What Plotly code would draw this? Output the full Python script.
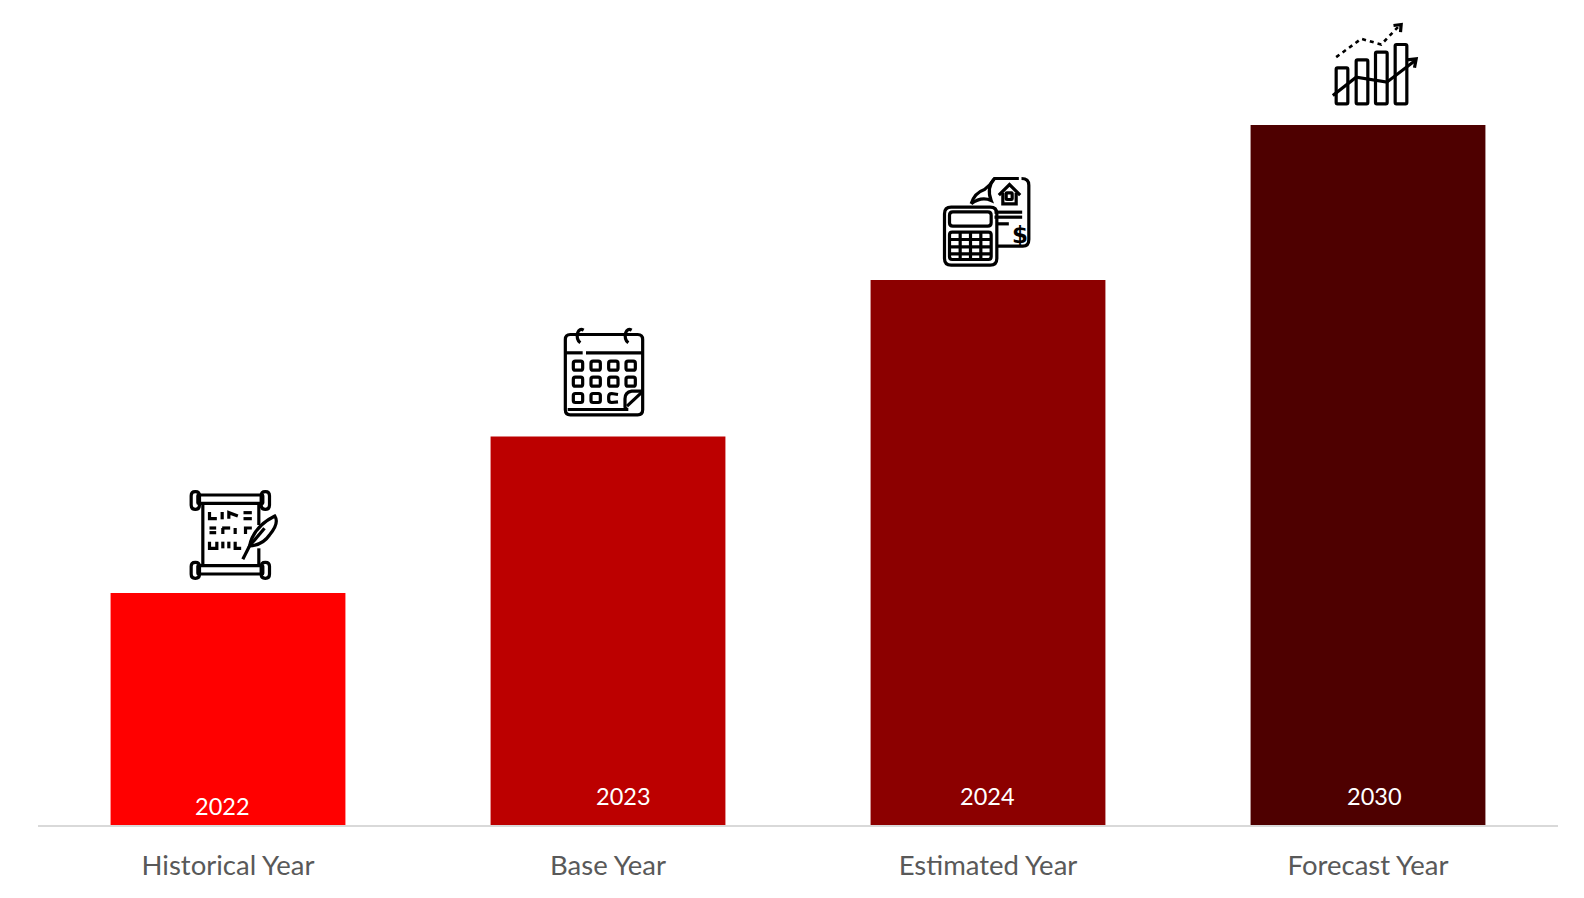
import plotly.graph_objects as go

categories = ["Historical Year", "Base Year", "Estimated Year", "Forecast Year"]
years = ["2022", "2023", "2024", "2030"]
values = [23.2, 38.85, 54.5, 70.0]
colors = ["#FF0000", "#BC0000", "#8C0000", "#4E0000"]

# small nudges of the year labels, they are not centred in the original
year_dx = [-6, 15, -1, 6]
year_y = [1.9, 2.9, 2.9, 2.9]


def rrect(x0, y0, x1, y1, r=6):
    return (f"M{x0+r},{y0} L{x1-r},{y0} Q{x1},{y0} {x1},{y0+r} L{x1},{y1-r} Q{x1},{y1} {x1-r},{y1} "
            f"L{x0+r},{y1} Q{x0},{y1} {x0},{y1-r} L{x0},{y0+r} Q{x0},{y0} {x0+r},{y0} Z")


def poly(*pts):
    return "M" + " L".join(f"{x},{y}" for x, y in pts)


# Icons are sketched in their own little grid (3 units = 1 px), y going down
scroll = [
    rrect(85, 75, 280, 100, 2), rrect(65, 65, 90, 118, 12), rrect(275, 65, 300, 118, 12),
    rrect(85, 287, 280, 312, 2), rrect(65, 277, 90, 325, 12), rrect(275, 277, 300, 325, 12),
    poly((100, 100), (100, 287)), poly((268, 100), (268, 165)), poly((268, 235), (268, 287)),
    poly((120, 126), (120, 146), (142, 146)), poly((158, 126), (158, 148)),
    poly((178, 146), (178, 128), (205, 138)), poly((222, 128), (247, 128)), poly((222, 146), (247, 146)),
    poly((120, 174), (140, 174)), poly((120, 188), (140, 188)), poly((158, 174), (182, 174)),
    poly((160, 174), (160, 192)), poly((197, 174), (197, 192)), poly((228, 192), (228, 174), (247, 174)),
    poly((120, 215), (120, 235), (142, 235), (142, 215)), poly((160, 215), (160, 235)),
    poly((178, 215), (178, 235)), poly((197, 215), (197, 235), (215, 235)),
    poly((220, 268), (240, 228)),
    "M240,228 Q252,170 316,138 Q330,160 300,195 Q280,225 240,228 Z",
    poly((240, 228), (285, 175)),
]
calendar = [
    rrect(73, 75, 305, 316, 15),
    poly((75, 130), (125, 130)), poly((135, 130), (305, 130)),
    "M118,100 Q105,90 110,70 Q115,55 128,62", "M262,100 Q249,90 254,70 Q259,55 272,62",
    rrect(97, 155, 125, 182), rrect(150, 155, 178, 182), rrect(203, 155, 231, 182), rrect(255, 155, 283, 182),
    rrect(97, 203, 125, 230), rrect(150, 203, 178, 230), rrect(203, 203, 231, 230), rrect(255, 203, 283, 230),
    rrect(97, 252, 125, 279), rrect(150, 252, 178, 279),
    "M231,255 L212,252 Q203,252 203,262 L203,270 Q203,279 212,279 L231,277",
    "M305,245 L272,245 Q252,248 252,268 L252,292 Q252,300 262,300 L80,300",
    poly((258, 290), (303, 248)),
]
calculator = [
    rrect(75, 128, 232, 302, 20), rrect(90, 142, 215, 185, 10), rrect(90, 203, 215, 285, 8),
    poly((122, 203), (122, 285)), poly((153, 203), (153, 285)), poly((184, 203), (184, 285)),
    poly((90, 225), (215, 225)), poly((90, 247), (215, 247)), poly((90, 268), (215, 268)),
    "M155,118 Q165,85 195,75 Q212,62 225,42 L298,42",
    "M225,42 Q200,70 215,108 Q185,95 155,118",
    "M306,42 Q328,42 328,62 L328,225 Q328,245 310,245 L235,245",
    poly((225, 143), (308, 143)), poly((225, 158), (308, 158)), poly((232, 178), (268, 178)),
    poly((238, 92), (270, 60), (302, 92)), poly((250, 85), (250, 118), (290, 118), (290, 85)),
    rrect(260, 85, 278, 105, 2),
]
growth = [
    rrect(110, 172, 145, 280, 4), rrect(170, 148, 205, 280, 4),
    rrect(228, 125, 263, 280, 4), rrect(287, 102, 322, 280, 4),
    poly((100, 255), (170, 200), (262, 215), (350, 148)),
    poly((322, 148), (350, 145), (345, 172)),
    poly((282, 45), (305, 42), (303, 65)),
]
growth_dash = [poly((110, 140), (185, 85), (245, 102), (300, 45))]

# offset of each icon grid against (bar centre, bar top), in px
icon_offsets = [(-58.5, 123), (-67, 127), (-68.5, 115.5), (-68.5, 114.5)]
icons = [scroll, calendar, calculator, growth]


def to_anchor(path, off):
    # scale path numbers to px and flip y, pixel shapes count y upwards
    out = []
    for chunk in path.split():
        cmd = chunk[0] if chunk[0].isalpha() else ""
        if chunk == "Z":
            out.append("Z")
            continue
        x, y = chunk[len(cmd):].split(",")
        out.append(f"{cmd}{off[0] + float(x) / 3:.2f},{off[1] - float(y) / 3:.2f}")
    return " ".join(out)


fig = go.Figure(go.Bar(
    x=categories,
    y=values,
    width=0.618,
    marker_color=colors,
    marker_line_width=0,
))

for cat, val, off, paths in zip(categories, values, icon_offsets, icons):
    for p in paths:
        fig.add_shape(type="path", path=to_anchor(p, off), xsizemode="pixel", ysizemode="pixel",
                      xanchor=cat, yanchor=val, xref="x", yref="y",
                      line=dict(color="#000000", width=3.2))

for p in growth_dash:
    fig.add_shape(type="path", path=to_anchor(p, icon_offsets[3]), xsizemode="pixel", ysizemode="pixel",
                  xanchor=categories[3], yanchor=values[3], xref="x", yref="y",
                  line=dict(color="#000000", width=2.6, dash="4px,4px"))

for cat, yr, dx, yy in zip(categories, years, year_dx, year_y):
    fig.add_annotation(x=cat, y=yy, text=yr, showarrow=False, xshift=dx,
                       font=dict(family="Lato", size=23.5, color="#FFFFFF"))

# the dollar sign on the calculator icon
fig.add_annotation(x=categories[2], y=values[2], text="<b>$</b>", showarrow=False, xshift=32, yshift=45,
                   font=dict(family="DejaVu Sans", size=23, color="#000000"))

# the page adds an 8px body margin around the figure
fig.update_layout(
    width=1568,
    height=882,
    margin=dict(l=30, r=18, t=0, b=65),
    paper_bgcolor="#FFFFFF",
    plot_bgcolor="#FFFFFF",
    showlegend=False,
)
fig.update_xaxes(
    showline=True, linecolor="#D9D9D9", linewidth=2,
    ticks="outside", ticklen=15, tickcolor="rgba(0,0,0,0)",
    tickfont=dict(family="Lato", size=27.5, color="#595959"),
    showgrid=False,
)
fig.update_yaxes(range=[0, 81.7], visible=False, showgrid=False)

fig.write_html("out.html")
